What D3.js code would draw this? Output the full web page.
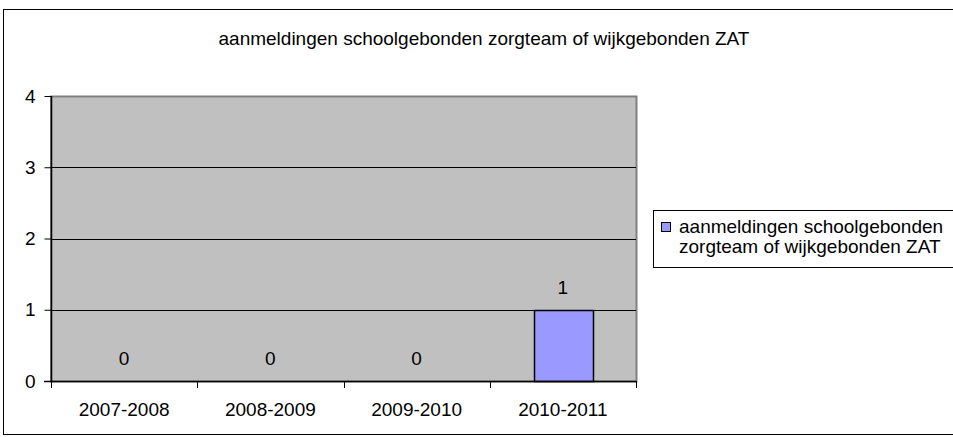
<!DOCTYPE html>
<html>
<head>
<meta charset="utf-8">
<script src="https://cdn.jsdelivr.net/npm/d3@7"></script>
<style>
  body { margin: 0; background: #fff; overflow: hidden; }
  text { font-family: "Liberation Sans", Arial, sans-serif; fill: #000; }
</style>
</head>
<body>
<div id="chart"></div>
<script>
// chart values
var categories = ["2007-2008", "2008-2009", "2009-2010", "2010-2011"];
var values = [0, 0, 0, 1];
var yTicks = [0, 1, 2, 3, 4];
var title = "aanmeldingen schoolgebonden zorgteam of wijkgebonden ZAT";
var legendLines = ["aanmeldingen schoolgebonden", "zorgteam of wijkgebonden ZAT"];

var width = 953, height = 437;
var fs = 19;
var plot = { left: 51, right: 636, top: 96, bottom: 381 };

var svg = d3.select("#chart").append("svg")
    .attr("width", width)
    .attr("height", height);

// outer frame (runs off the right edge like the original)
svg.append("rect")
    .attr("x", 3.5).attr("y", 9.5)
    .attr("width", 980).attr("height", 425)
    .attr("fill", "none").attr("stroke", "#000");

svg.append("text")
    .attr("x", 484).attr("y", 45)
    .attr("text-anchor", "middle")
    .attr("font-size", fs)
    .text(title);

var x = d3.scaleBand()
    .domain(categories)
    .range([plot.left, plot.right])
    .paddingInner(0.6)
    .paddingOuter(0.3);

var y = d3.scaleLinear()
    .domain([0, 4])
    .range([plot.bottom, plot.top]);

// plot background
svg.append("rect")
    .attr("x", plot.left).attr("y", plot.top + 0.5)
    .attr("width", plot.right - plot.left + 0.5).attr("height", plot.bottom - plot.top)
    .attr("fill", "#c0c0c0")
    .attr("stroke", "#808080")
    .attr("stroke-width", 2);

// gridlines
svg.append("g").selectAll("line")
    .data(yTicks.slice(1, -1))
    .enter().append("line")
    .attr("x1", plot.left).attr("x2", plot.right)
    .attr("y1", function(d) { return Math.round(y(d)) + 0.5; })
    .attr("y2", function(d) { return Math.round(y(d)) + 0.5; })
    .attr("stroke", "#000");

// bars
svg.append("g").selectAll("rect")
    .data(categories)
    .enter().append("rect")
    .filter(function(d, i) { return values[i] > 0; })
    .attr("x", function(d) { return Math.round(x(d)) + 0.5; })
    .attr("y", function(d) { return Math.round(y(values[categories.indexOf(d)])) + 0.5; })
    .attr("width", Math.round(x.bandwidth()))
    .attr("height", function(d) { return Math.round(y(0)) - Math.round(y(values[categories.indexOf(d)])); })
    .attr("fill", "#9999ff")
    .attr("stroke", "#000")
    .attr("stroke-width", 1.5);

// value labels
svg.append("g").selectAll("text")
    .data(values)
    .enter().append("text")
    .attr("x", function(d, i) { return x(categories[i]) + x.bandwidth() / 2; })
    .attr("y", function(d) { return y(d) - 16; })
    .attr("text-anchor", "middle")
    .attr("font-size", fs)
    .text(function(d) { return d; });

// y axis
var yAxis = d3.axisLeft(y).tickValues(yTicks).tickFormat(d3.format("d")).tickSize(7).tickPadding(9);
var gy = svg.append("g")
    .attr("transform", "translate(" + (plot.left + 0.5) + ",0)")
    .call(yAxis);
gy.select(".domain").attr("stroke", "#000").attr("stroke-width", 1.5).attr("d", "M0," + plot.top + "V" + plot.bottom);
gy.selectAll(".tick line").attr("stroke", "#000");
gy.selectAll("text")
    .attr("font-size", fs)
    .attr("font-family", "Liberation Sans, Arial, sans-serif")
    .attr("fill", "#000");

// x axis: ticks at category boundaries
var bounds = d3.range(categories.length + 1).map(function(i) {
    return plot.left + i * x.step();
});
svg.append("line")
    .attr("x1", plot.left - 7).attr("x2", plot.right)
    .attr("y1", plot.bottom + 0.5).attr("y2", plot.bottom + 0.5)
    .attr("stroke", "#000")
    .attr("stroke-width", 1.5);
svg.append("g").selectAll("line")
    .data(bounds)
    .enter().append("line")
    .attr("x1", function(d) { return Math.round(d) + 0.5; })
    .attr("x2", function(d) { return Math.round(d) + 0.5; })
    .attr("y1", plot.bottom).attr("y2", plot.bottom + 7)
    .attr("stroke", "#000");
svg.append("g").selectAll("text")
    .data(categories)
    .enter().append("text")
    .attr("x", function(d) { return x(d) + x.bandwidth() / 2; })
    .attr("y", 416)
    .attr("text-anchor", "middle")
    .attr("font-size", fs)
    .text(function(d) { return d; });

// legend
var lg = svg.append("g").attr("transform", "translate(653,210)");
lg.append("rect")
    .attr("x", 0.5).attr("y", 0.5)
    .attr("width", 330).attr("height", 57)
    .attr("fill", "#fff").attr("stroke", "#000");
lg.append("rect")
    .attr("x", 8.5).attr("y", 12.5)
    .attr("width", 9).attr("height", 9)
    .attr("fill", "#9999ff").attr("stroke", "#000");
lg.selectAll("text.l")
    .data(legendLines)
    .enter().append("text")
    .attr("class", "l")
    .attr("x", 26)
    .attr("y", function(d, i) { return 23 + i * 20; })
    .attr("font-size", fs)
    .text(function(d) { return d; });
</script>
</body>
</html>
